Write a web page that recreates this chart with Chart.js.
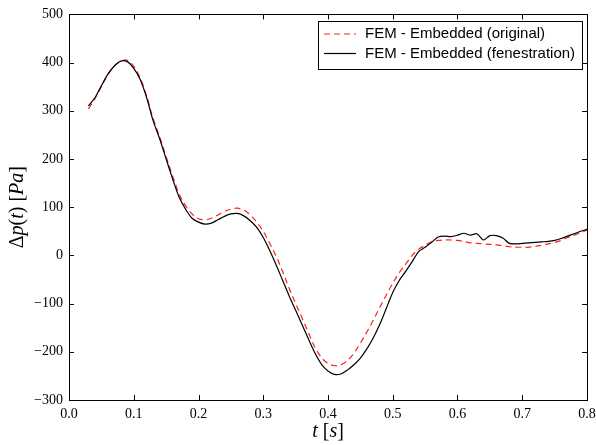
<!DOCTYPE html>
<html>
<head>
<meta charset="utf-8">
<script src="https://cdn.jsdelivr.net/npm/chart.js@4.4.1/dist/chart.umd.min.js"></script>
<style>
  html, body { margin: 0; padding: 0; background: #fff; }
  #wrap { width: 596px; height: 445px; }
</style>
</head>
<body>
<div id="wrap"><canvas id="graficoPressao" width="596" height="445"></canvas></div>
<script>
// ---------------------------------------------------------------------------
// Data
// ---------------------------------------------------------------------------
const tempos = [
  0.03, 0.04, 0.05, 0.06, 0.07, 0.08, 0.09, 0.10, 0.11, 0.12,
  0.13, 0.14, 0.15, 0.16, 0.17, 0.18, 0.19, 0.20, 0.21, 0.22,
  0.23, 0.24, 0.25, 0.26, 0.27, 0.28, 0.29, 0.30, 0.31, 0.32,
  0.33, 0.34, 0.35, 0.36, 0.37, 0.38, 0.39, 0.40, 0.41, 0.42,
  0.43, 0.44, 0.45, 0.46, 0.47, 0.48, 0.49, 0.50, 0.51, 0.52,
  0.53, 0.54, 0.55, 0.56, 0.57, 0.58, 0.59, 0.60, 0.61, 0.62,
  0.63, 0.64, 0.65, 0.66, 0.67, 0.68, 0.69, 0.70, 0.71, 0.72,
  0.73, 0.74, 0.75, 0.76, 0.77, 0.78, 0.79, 0.80
];

const pressaoOriginal = [
  304, 325, 350, 375, 393, 403, 405, 392, 368, 330,
  284, 246, 205, 165, 128, 103, 86, 76, 74, 77,
  84, 91, 96, 98, 94, 84, 69, 50, 25, -2,
  -34, -68, -100, -130, -161, -191, -212, -224, -229, -227,
  -218, -203, -182, -159, -134, -108, -82, -58, -36, -18,
  0, 13, 21, 28, 31, 32, 32, 31, 29, 26,
  25, 24, 23, 22, 20, 18, 17, 17, 17, 19,
  21, 24, 27, 31, 37, 42, 47, 53
];

const pressaoFenestracao = [
  310, 327, 352, 376, 393, 403, 402, 388, 365, 327,
  279, 242, 200, 159, 121, 96, 77, 69, 65, 67,
  74, 81, 86, 87, 82, 72, 58, 37, 10, -20,
  -52, -84, -114, -144, -174, -203, -226, -240, -247, -246,
  -238, -227, -213, -194, -171, -143, -110, -77, -52, -33,
  -13, 8, 17, 27, 38, 40, 39, 42, 46, 42,
  45, 32, 41, 41, 36, 25, 24, 25, 26, 27,
  28, 29, 31, 35, 40, 45, 50, 54
];

const ticksX = [0.0, 0.1, 0.2, 0.3, 0.4, 0.5, 0.6, 0.7, 0.8];
const ticksY = [-300, -200, -100, 0, 100, 200, 300, 400, 500];

const legendaTextos = ["FEM - Embedded (original)", "FEM - Embedded (fenestration)"];

// ---------------------------------------------------------------------------
// Helpers
// ---------------------------------------------------------------------------
const FONTE_SERIF = "'Liberation Serif', 'DejaVu Serif', serif";
const FONTE_SANS = "'Liberation Sans', Arial, sans-serif";

function pontos(xs, ys) {
  return xs.map((x, i) => ({ x: x, y: ys[i] }));
}

function formatarNumero(v) {
  return v < 0 ? "\u2212" + Math.abs(v) : String(v);
}

// draws a run of [text, italic] pieces centred at (cx, cy)
function desenharRico(ctx, partes, cx, cy, tamanho, rotacao) {
  ctx.save();
  ctx.translate(cx, cy);
  if (rotacao) ctx.rotate(rotacao);
  let total = 0;
  const larguras = partes.map(([txt, it]) => {
    ctx.font = (it ? "italic " : "") + tamanho + "px " + FONTE_SERIF;
    const w = ctx.measureText(txt).width;
    total += w;
    return w;
  });
  let x = -total / 2;
  ctx.fillStyle = "#000";
  ctx.textBaseline = "middle";
  ctx.textAlign = "left";
  partes.forEach(([txt, it], i) => {
    ctx.font = (it ? "italic " : "") + tamanho + "px " + FONTE_SERIF;
    ctx.fillText(txt, x, 0);
    x += larguras[i];
  });
  ctx.restore();
}

// ---------------------------------------------------------------------------
// Plugin: frame, inward ticks on all sides, axis titles, boxed legend
// ---------------------------------------------------------------------------
const molduraPlugin = {
  id: "moldura",
  afterDatasetsDraw(chart) {
    const { ctx, chartArea: a, scales } = chart;
    ctx.save();
    ctx.strokeStyle = "#000";
    ctx.lineWidth = 1;
    const tam = 5;
    ctx.beginPath();
    ticksX.forEach(v => {
      const px = Math.round(scales.x.getPixelForValue(v)) + 0.5;
      ctx.moveTo(px, a.bottom); ctx.lineTo(px, a.bottom - tam);
      ctx.moveTo(px, a.top); ctx.lineTo(px, a.top + tam);
    });
    ticksY.forEach(v => {
      const py = Math.round(scales.y.getPixelForValue(v)) + 0.5;
      ctx.moveTo(a.left, py); ctx.lineTo(a.left + tam, py);
      ctx.moveTo(a.right, py); ctx.lineTo(a.right - tam, py);
    });
    ctx.stroke();
    ctx.strokeRect(Math.round(a.left) + 0.5, Math.round(a.top) + 0.5,
      Math.round(a.right - a.left), Math.round(a.bottom - a.top));
    ctx.restore();
  },
  afterDraw(chart) {
    const { ctx, chartArea: a } = chart;

    // axis titles
    desenharRico(ctx, [["t", true], [" [", false], ["s", true], ["]", false]],
      (a.left + a.right) / 2, 432, 20, 0);
    desenharRico(ctx, [["\u0394", false], ["p", true], ["(", false], ["t", true], [")", false],
      [" [", false], ["Pa", true], ["]", false]],
      18, (a.top + a.bottom) / 2, 20, -Math.PI / 2);

    // legend
    const caixa = { x: 318.5, y: 21.5, w: 264, h: 48 };
    ctx.save();
    ctx.fillStyle = "#fff";
    ctx.fillRect(caixa.x, caixa.y, caixa.w, caixa.h);
    ctx.strokeStyle = "#000";
    ctx.lineWidth = 1;
    ctx.strokeRect(caixa.x, caixa.y, caixa.w, caixa.h);
    ctx.font = "15px " + FONTE_SANS;
    ctx.textBaseline = "middle";
    ctx.fillStyle = "#000";
    chart.data.datasets.forEach((ds, i) => {
      const y = 34 + i * 19.5;
      ctx.save();
      ctx.strokeStyle = ds.borderColor;
      ctx.lineWidth = ds.borderWidth;
      ctx.setLineDash(ds.borderDash || []);
      ctx.beginPath();
      ctx.moveTo(324, y);
      ctx.lineTo(356, y);
      ctx.stroke();
      ctx.restore();
      ctx.fillText(legendaTextos[i], 365, y);
    });
    ctx.restore();
  }
};

// ---------------------------------------------------------------------------
// Chart
// ---------------------------------------------------------------------------
const ctxPressao = document.getElementById("graficoPressao").getContext("2d");

const chartPressao = new Chart(ctxPressao, {
  type: "line",
  data: {
    datasets: [
      {
        label: legendaTextos[0],
        data: pontos(tempos, pressaoOriginal),
        borderColor: "#ff2020",
        borderWidth: 1.2,
        borderDash: [6, 4],
        pointRadius: 0,
        tension: 0.35,
        fill: false,
        order: 2
      },
      {
        label: legendaTextos[1],
        data: pontos(tempos, pressaoFenestracao),
        borderColor: "#000000",
        borderWidth: 1.2,
        pointRadius: 0,
        tension: 0.3,
        fill: false,
        order: 1
      }
    ]
  },
  options: {
    responsive: false,
    animation: false,
    events: [],
    layout: { padding: { top: 13, right: 9, left: 0, bottom: 0 } },
    plugins: {
      legend: { display: false },
      tooltip: { enabled: false }
    },
    scales: {
      x: {
        type: "linear",
        min: 0,
        max: 0.8,
        afterBuildTicks: s => { s.ticks = ticksX.map(v => ({ value: v })); },
        afterFit: s => { s.height = 45; s.paddingLeft = 0; s.paddingRight = 0; },
        grid: { display: false, drawTicks: false },
        border: { display: false },
        ticks: {
          padding: 6,
          maxRotation: 0,
          color: "#000",
          font: { family: FONTE_SERIF, size: 14 },
          callback: v => v.toFixed(1)
        }
      },
      y: {
        type: "linear",
        min: -300,
        max: 500,
        afterBuildTicks: s => { s.ticks = ticksY.map(v => ({ value: v })); },
        afterFit: s => { s.width = 69; },
        grid: { display: false, drawTicks: false },
        border: { display: false },
        ticks: {
          padding: 6,
          color: "#000",
          font: { family: FONTE_SERIF, size: 14 },
          callback: v => formatarNumero(v)
        }
      }
    }
  },
  plugins: [molduraPlugin]
});
</script>
</body>
</html>
